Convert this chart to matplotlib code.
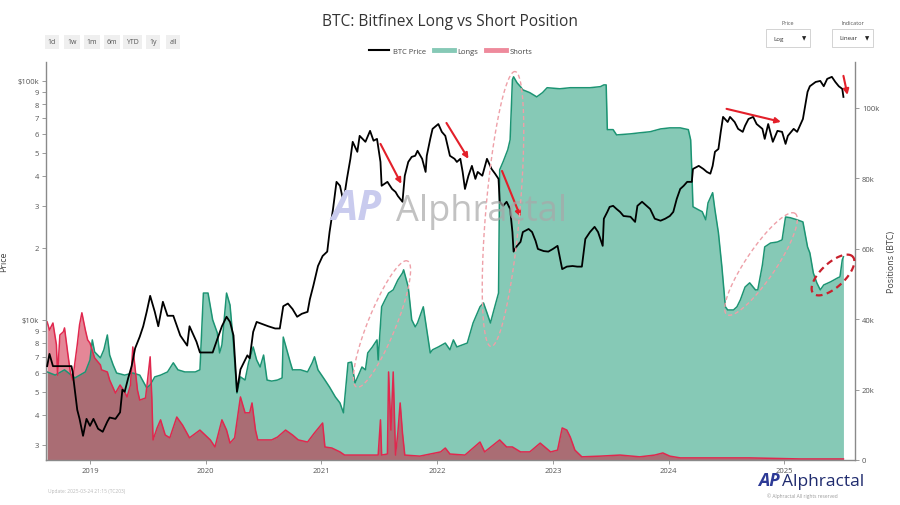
import numpy as np
import matplotlib.pyplot as plt
from matplotlib.lines import Line2D
from matplotlib.patches import Rectangle

plt.rcParams['font.family'] = ['Open Sans', 'DejaVu Sans']

W, H = 900, 506

# BTC price (thousand USD)
btc_year = [2018.63, 2018.65, 2018.68, 2018.74, 2018.79, 2018.84, 2018.85, 2018.89, 2018.91, 2018.94,
            2018.97, 2019.00, 2019.03, 2019.07, 2019.11, 2019.15, 2019.17, 2019.22, 2019.26, 2019.28,
            2019.30, 2019.33, 2019.36, 2019.39, 2019.43, 2019.46, 2019.49, 2019.52, 2019.56, 2019.59,
            2019.63, 2019.67, 2019.72, 2019.78, 2019.84, 2019.86, 2019.92, 2019.95, 2020.01, 2020.06,
            2020.10, 2020.14, 2020.18, 2020.21, 2020.24, 2020.27, 2020.30, 2020.36, 2020.38, 2020.41,
            2020.44, 2020.49, 2020.54, 2020.60, 2020.64, 2020.67, 2020.71, 2020.75, 2020.79, 2020.83,
            2020.88, 2020.90, 2020.93, 2020.97, 2021.01, 2021.05, 2021.07, 2021.10, 2021.13, 2021.16,
            2021.19, 2021.22, 2021.25, 2021.27, 2021.31, 2021.33, 2021.38, 2021.42, 2021.45, 2021.48,
            2021.51, 2021.52, 2021.57, 2021.61, 2021.64, 2021.66, 2021.70, 2021.72, 2021.75, 2021.78,
            2021.81, 2021.83, 2021.87, 2021.90, 2021.91, 2021.94, 2021.96, 2022.01, 2022.04, 2022.07,
            2022.11, 2022.15, 2022.17, 2022.20, 2022.22, 2022.24, 2022.27, 2022.30, 2022.33, 2022.35,
            2022.39, 2022.43, 2022.47, 2022.50, 2022.53, 2022.54, 2022.57, 2022.60, 2022.63, 2022.65,
            2022.66, 2022.69, 2022.72, 2022.74, 2022.79, 2022.82, 2022.85, 2022.87, 2022.92, 2022.96,
            2023.00, 2023.04, 2023.08, 2023.12, 2023.17, 2023.21, 2023.25, 2023.28, 2023.32, 2023.36,
            2023.39, 2023.43, 2023.44, 2023.47, 2023.49, 2023.52, 2023.55, 2023.58, 2023.61, 2023.67,
            2023.71, 2023.73, 2023.77, 2023.81, 2023.84, 2023.88, 2023.93, 2023.97, 2024.01, 2024.04,
            2024.07, 2024.10, 2024.13, 2024.16, 2024.20, 2024.21, 2024.26, 2024.30, 2024.33, 2024.36,
            2024.38, 2024.40, 2024.43, 2024.45, 2024.47, 2024.51, 2024.53, 2024.57, 2024.60, 2024.64,
            2024.66, 2024.69, 2024.73, 2024.76, 2024.81, 2024.83, 2024.86, 2024.90, 2024.94, 2024.98,
            2025.01, 2025.03, 2025.08, 2025.11, 2025.14, 2025.16, 2025.20, 2025.22, 2025.27, 2025.31,
            2025.34, 2025.37, 2025.41, 2025.44, 2025.47, 2025.50, 2025.51]
btc_price = [6.4, 7.2, 6.4, 6.4, 6.4, 6.4, 6.05, 4.2, 3.85, 3.27,
             3.85, 3.6, 3.85, 3.5, 3.4, 3.75, 3.9, 3.85, 4.1, 5.1,
             5.0, 5.7, 6.4, 7.6, 8.5, 9.4, 10.8, 12.6, 10.8, 9.4,
             11.9, 10.4, 10.4, 8.6, 7.8, 9.4, 8.1, 7.3, 7.3, 7.3,
             8.3, 9.4, 10.3, 9.8, 8.6, 5.0, 6.2, 7.1, 6.9, 8.9,
             9.8, 9.6, 9.4, 9.2, 9.2, 11.4, 11.7, 11.1, 10.3, 10.6,
             10.8, 12.2, 13.9, 16.8, 18.5, 19.3, 23.3, 29.1, 37.8, 36.4,
             31.2, 38.9, 47.2, 55.6, 50.5, 58.9, 55.6, 61.8, 56.2, 57.2,
             45.8, 36.4, 37.8, 35.3, 34.3, 33.0, 31.2, 40.1, 45.8, 48.1,
             48.6, 51.0, 47.2, 41.6, 48.6, 57.2, 63.0, 66.0, 61.2, 58.9,
             48.6, 47.2, 45.8, 47.2, 41.6, 35.3, 40.1, 44.1, 38.9, 41.6,
             40.1, 47.2, 42.8, 40.9, 38.9, 31.2, 30.0, 31.2, 29.1, 23.3,
             19.3, 20.4, 21.2, 23.3, 24.0, 23.3, 21.4, 19.8, 19.4, 19.3,
             19.8, 20.4, 16.3, 16.7, 16.8, 16.7, 16.7, 21.8, 23.3, 24.5,
             23.3, 20.4, 26.5, 28.3, 29.7, 30.0, 29.1, 28.3, 27.2, 27.0,
             25.7, 30.0, 31.2, 30.0, 29.1, 26.5, 26.0, 26.5, 27.2, 28.3,
             32.1, 35.3, 36.4, 37.8, 37.8, 42.8, 44.1, 42.8, 41.6, 40.9,
             44.1, 50.5, 51.9, 61.2, 70.7, 67.3, 70.7, 67.3, 63.0, 61.2,
             64.9, 69.3, 70.7, 66.0, 63.0, 57.2, 66.0, 55.6, 61.8, 61.2,
             54.5, 58.9, 63.0, 61.2, 66.0, 69.3, 90.0, 95.0, 99.0, 100.0,
             95.0, 102.0, 104.0, 99.0, 95.0, 92.6, 85.7]

# Bitfinex long positions (thousand BTC)
long_year = [2018.63, 2018.70, 2018.78, 2018.87, 2018.96, 2019.00, 2019.02, 2019.04, 2019.09, 2019.12,
             2019.15, 2019.17, 2019.20, 2019.23, 2019.30, 2019.37, 2019.43, 2019.49, 2019.52, 2019.56,
             2019.61, 2019.67, 2019.72, 2019.76, 2019.82, 2019.91, 2019.95, 2019.98, 2020.02, 2020.06,
             2020.10, 2020.12, 2020.14, 2020.18, 2020.21, 2020.24, 2020.27, 2020.30, 2020.34, 2020.37,
             2020.41, 2020.44, 2020.47, 2020.50, 2020.53, 2020.57, 2020.62, 2020.66, 2020.67, 2020.70,
             2020.73, 2020.75, 2020.82, 2020.88, 2020.92, 2020.94, 2020.97, 2021.03, 2021.07, 2021.12,
             2021.16, 2021.19, 2021.20, 2021.23, 2021.26, 2021.29, 2021.32, 2021.35, 2021.38, 2021.40,
             2021.44, 2021.48, 2021.49, 2021.52, 2021.55, 2021.58, 2021.62, 2021.66, 2021.70, 2021.71,
             2021.75, 2021.78, 2021.81, 2021.83, 2021.88, 2021.91, 2021.94, 2021.96, 2022.01, 2022.07,
             2022.11, 2022.14, 2022.17, 2022.26, 2022.31, 2022.37, 2022.40, 2022.43, 2022.46, 2022.49,
             2022.53, 2022.54, 2022.57, 2022.61, 2022.63, 2022.65, 2022.66, 2022.69, 2022.72, 2022.74,
             2022.80, 2022.86, 2022.91, 2022.95, 2023.06, 2023.15, 2023.24, 2023.32, 2023.41, 2023.44,
             2023.46, 2023.47, 2023.52, 2023.55, 2023.67, 2023.75, 2023.84, 2023.93, 2024.01, 2024.10,
             2024.17, 2024.19, 2024.20, 2024.21, 2024.26, 2024.29, 2024.32, 2024.34, 2024.38, 2024.40,
             2024.43, 2024.46, 2024.49, 2024.51, 2024.56, 2024.59, 2024.62, 2024.66, 2024.70, 2024.75,
             2024.77, 2024.81, 2024.83, 2024.88, 2024.94, 2024.98, 2025.01, 2025.05, 2025.11, 2025.16,
             2025.20, 2025.22, 2025.25, 2025.28, 2025.31, 2025.34, 2025.40, 2025.46, 2025.48, 2025.50,
             2025.51]
long_btc = [25.0, 24.1, 25.6, 23.3, 25.0, 28.4, 34.1, 30.7, 29.0, 31.3,
            35.5, 29.8, 27.0, 24.7, 24.1, 24.7, 24.1, 20.5, 21.3, 23.6,
            24.1, 25.0, 27.6, 25.6, 25.0, 25.0, 25.6, 47.4, 47.4, 39.8,
            36.1, 30.4, 32.7, 47.4, 44.0, 32.7, 19.0, 23.6, 22.7, 27.6,
            32.1, 28.4, 26.4, 29.8, 22.7, 22.4, 22.7, 23.3, 34.9, 31.3,
            27.8, 25.6, 25.6, 25.0, 27.6, 29.3, 25.6, 22.7, 20.7, 17.9,
            16.2, 13.4, 17.0, 27.6, 27.8, 21.9, 24.1, 26.4, 25.6, 30.4,
            32.1, 34.1, 28.4, 43.5, 45.5, 47.4, 48.3, 51.1, 53.1, 54.0,
            49.1, 39.8, 37.8, 38.9, 43.5, 36.9, 30.4, 31.3, 32.1, 33.2,
            31.3, 34.1, 32.1, 33.2, 38.9, 43.5, 44.6, 41.8, 38.9, 42.6,
            47.4, 82.4, 84.7, 88.1, 90.9, 108.0, 108.8, 107.1, 106.0, 105.1,
            104.3, 103.1, 104.3, 105.7, 105.4, 105.7, 105.7, 105.7, 106.0, 106.5,
            106.5, 93.8, 93.8, 92.3, 92.6, 92.9, 93.2, 94.0, 94.3, 94.3,
            93.8, 90.9, 82.4, 71.9, 71.0, 70.5, 68.2, 73.0, 75.9, 71.0,
            64.5, 54.8, 43.5, 42.6, 42.6, 43.5, 45.5, 49.1, 50.3, 48.3,
            48.3, 55.4, 60.5, 61.6, 61.9, 62.5, 69.0, 68.8, 68.2, 67.6,
            60.5, 58.8, 53.1, 50.3, 48.3, 49.7, 50.6, 51.7, 52.0, 56.8,
            57.7]

# Bitfinex short positions (thousand BTC)
short_year = [2018.63, 2018.65, 2018.68, 2018.71, 2018.72, 2018.74, 2018.77, 2018.78, 2018.81, 2018.83,
              2018.85, 2018.89, 2018.91, 2018.93, 2018.96, 2018.98, 2019.00, 2019.04, 2019.09, 2019.10,
              2019.15, 2019.17, 2019.22, 2019.26, 2019.30, 2019.32, 2019.35, 2019.37, 2019.41, 2019.43,
              2019.48, 2019.52, 2019.535, 2019.545, 2019.58, 2019.61, 2019.65, 2019.69, 2019.75, 2019.80,
              2019.86, 2019.95, 2020.04, 2020.08, 2020.14, 2020.18, 2020.21, 2020.25, 2020.30, 2020.34,
              2020.38, 2020.40, 2020.43, 2020.45, 2020.51, 2020.57, 2020.62, 2020.69, 2020.75, 2020.80,
              2020.88, 2020.94, 2021.01, 2021.03, 2021.09, 2021.16, 2021.20, 2021.33, 2021.49, 2021.51,
              2021.52, 2021.57, 2021.58, 2021.60, 2021.62, 2021.64, 2021.66, 2021.68, 2021.70, 2021.72,
              2021.85, 2022.03, 2022.07, 2022.11, 2022.24, 2022.37, 2022.41, 2022.54, 2022.60, 2022.65,
              2022.72, 2022.80, 2022.89, 2022.98, 2023.04, 2023.08, 2023.12, 2023.15, 2023.19, 2023.25,
              2023.41, 2023.58, 2023.75, 2023.88, 2023.95, 2024.01, 2024.10, 2024.27, 2024.70, 2025.14,
              2025.51]
short_btc = [39.2, 36.9, 38.9, 32.7, 24.1, 35.5, 36.4, 37.5, 29.8, 25.0,
             22.7, 32.7, 38.4, 41.8, 36.9, 34.1, 33.2, 29.0, 27.0, 25.6,
             25.0, 22.7, 19.0, 21.3, 19.3, 17.9, 21.3, 32.1, 19.9, 17.0,
             17.6, 29.3, 17.0, 5.7, 9.1, 11.4, 7.1, 6.3, 12.2, 9.9,
             6.3, 8.5, 5.7, 3.7, 11.4, 8.5, 4.8, 6.3, 17.9, 13.4,
             13.4, 16.2, 8.5, 5.7, 5.7, 5.7, 6.5, 8.5, 7.1, 5.7,
             5.1, 7.7, 10.5, 3.7, 3.4, 2.3, 1.4, 1.4, 1.4, 11.4,
             1.4, 1.7, 25.0, 8.5, 25.0, 1.4, 7.7, 16.2, 7.7, 1.4,
             1.1, 2.3, 3.4, 1.7, 1.4, 5.1, 2.3, 5.7, 3.7, 3.7,
             2.3, 2.3, 4.8, 2.3, 2.8, 9.1, 8.5, 6.5, 2.8, 0.9,
             1.1, 1.4, 0.9, 1.4, 2.0, 1.1, 0.6, 0.6, 0.6, 0.3,
             0.3]

year_ticks = [2019, 2020, 2021, 2022, 2023, 2024, 2025]
pos_ticks = [0, 20, 40, 60, 80, 100]
pos_labels = ['0', '20k', '40k', '60k', '80k', '100k']
price_major = [10, 100]
price_major_labels = ['$10k', '$100k']
price_minor = [3, 4, 5, 6, 7, 8, 9, 20, 30, 40, 50, 60, 70, 80, 90]
price_minor_labels = ['3', '4', '5', '6', '7', '8', '9', '2', '3', '4', '5', '6', '7', '8', '9']

LONG_LINE = '#1c9473'
LONG_FILL = '#86c9b6'
SHORT_LINE = '#e0284e'
SHORT_FILL = (0.80, 0.10, 0.22, 0.52)
AXIS_GREY = '#8a8a8a'
TICK_TXT = '#555555'

fig = plt.figure(figsize=(9, 5.06), dpi=100)
ax = fig.add_axes([46 / W, 1 - 461 / H, (855 - 46) / W, (461 - 63) / H])
axp = ax.twinx()

# positions (right axis)
ax.fill_between(long_year, long_btc, 0, color=LONG_FILL, lw=0)
ax.plot(long_year, long_btc, color=LONG_LINE, lw=1.1)
ax.fill_between(short_year, short_btc, 0, color=SHORT_FILL, lw=0)
ax.plot(short_year, short_btc, color=SHORT_LINE, lw=1.1)
ax.set_ylim(0, 113)
ax.set_xlim(2018.62, 2025.61)
ax.yaxis.tick_right()
ax.yaxis.set_label_position('right')
ax.set_yticks(pos_ticks, pos_labels)
ax.set_xticks(year_ticks, [str(y) for y in year_ticks])
ax.set_ylabel('Positions (BTC)', fontsize=6.5, color='#444444')
ax.yaxis.set_label_coords(1.04, 0.5)

# price (left axis, log)
axp.plot(btc_year, btc_price, color='black', lw=1.3, zorder=5)
axp.set_yscale('log')
axp.set_ylim(2.59, 120)
axp.yaxis.tick_left()
axp.yaxis.set_label_position('left')
axp.set_yticks(price_major, price_major_labels)
axp.set_yticks(price_minor, price_minor_labels, minor=True)
axp.set_ylabel('Price', fontsize=6.5, color='#444444')
axp.yaxis.set_label_coords(-0.047, 0.5)

for a in (ax, axp):
    a.tick_params(axis='both', which='both', labelsize=5.5, labelcolor=TICK_TXT,
                  color=AXIS_GREY, length=3, width=0.6, direction='out', pad=2)
    for s in a.spines.values():
        s.set_visible(False)
for s in ('left', 'right', 'bottom'):
    ax.spines[s].set_visible(True)
    ax.spines[s].set_color(AXIS_GREY)
    ax.spines[s].set_linewidth(1.0)

# watermark
fig.text(357 / W, 1 - 210 / H, 'AP', fontsize=30, fontweight='bold', style='italic',
         color='#c9cbee', ha='center', va='center', zorder=0)
fig.text(482 / W, 1 - 212 / H, 'Alphractal', fontsize=26, color='#a8a8a8', alpha=0.7,
         ha='center', va='center', zorder=0)

# arrows (year, price in k$)
arrows = [((2021.51, 54.5), (2021.69, 37.1)),
          ((2022.08, 66.7), (2022.27, 47.2)),
          ((2022.56, 42.0), (2022.72, 27.0)),
          ((2024.50, 76.4), (2024.97, 67.4)),
          ((2025.51, 105.0), (2025.545, 87.4))]
for start, end in arrows:
    axp.annotate('', xy=end, xytext=start, zorder=8,
                 arrowprops=dict(arrowstyle='-|>', color='#e3202a', lw=1.5, mutation_scale=8,
                                 shrinkA=0, shrinkB=0))


def ellipse(cx, cy, a, b, ang, color, lw):
    t = np.linspace(0, 2 * np.pi, 240)
    th = np.radians(ang)
    x = cx + a * np.cos(t) * np.cos(th) - b * np.sin(t) * np.sin(th)
    y = cy - (a * np.cos(t) * np.sin(th) + b * np.sin(t) * np.cos(th))
    fig.add_artist(Line2D(x / W, 1 - y / H, color=color, lw=lw, ls=(0, (3, 2))))


ellipse(382, 325, 68, 14, 68, '#eea0a8', 1.0)
ellipse(503, 210, 138, 17, 85, '#eea0a8', 1.0)
ellipse(761, 265, 61, 15, 56, '#eea0a8', 1.0)
ellipse(833, 276, 27, 12, 43, '#c8202c', 1.6)

# title
fig.text(0.5, 1 - 22 / H, 'BTC: Bitfinex Long vs Short Position', fontsize=11.2,
         color='#333333', ha='center', va='center')

# legend
handles = [Line2D([], [], color='black', lw=1.5),
           Line2D([], [], color=LONG_FILL, lw=3.5),
           Line2D([], [], color='#ee8a9c', lw=3.5)]
fig.legend(handles, ['BTC Price', 'Longs', 'Shorts'], loc='center', ncol=3,
           bbox_to_anchor=(451 / W, 1 - 52 / H), frameon=False, fontsize=5.5,
           handlelength=2.6, columnspacing=1.0, handletextpad=0.5, labelcolor='#444444')

# range buttons
buttons = ['1d', '1w', '1m', '6m', 'YTD', '1y', 'all']
btn_x = [52, 72, 92, 112, 132, 153, 173]
for lab, bx in zip(buttons, btn_x):
    fig.text(bx / W, 1 - 43 / H, lab, fontsize=5, color='#555555', ha='center', va='center',
             bbox=dict(boxstyle='square,pad=0.45', fc='#efefef', ec='none'))

# dropdowns
for lab, val, x0, x1 in [('Price', 'Log', 766, 810), ('Indicator', 'Linear', 832, 873)]:
    fig.text((x0 + x1) / 2 / W, 1 - 24 / H, lab, fontsize=4, color='#555555', ha='center', va='center')
    fig.add_artist(Rectangle((x0 / W, 1 - 48 / H), (x1 - x0) / W, 18 / H, fill=False,
                             ec='#cccccc', lw=0.6))
    fig.text((x0 + 7) / W, 1 - 39 / H, val, fontsize=4.5, color='#333333', va='center')
    fig.text((x1 - 6) / W, 1 - 39 / H, '\u25bc', fontsize=4, color='#222222', ha='center', va='center')

# footer
fig.text(48 / W, 1 - 492 / H, 'Update: 2025-03-24 21:15 (TC203)', fontsize=3.5, color='#b8b8b8', va='center')
fig.text(769 / W, 1 - 481 / H, 'AP', fontsize=13, fontweight='bold', style='italic',
         color='#2d3a96', ha='center', va='center')
fig.text(782 / W, 1 - 482 / H, 'Alphractal', fontsize=12.5, color='#1f2b6e', va='center')
fig.text(767 / W, 1 - 496 / H, '\u00a9 Alphractal All rights reserved', fontsize=3.5,
         color='#9a9a9a', va='center')

fig.savefig('out.png', dpi=100)
